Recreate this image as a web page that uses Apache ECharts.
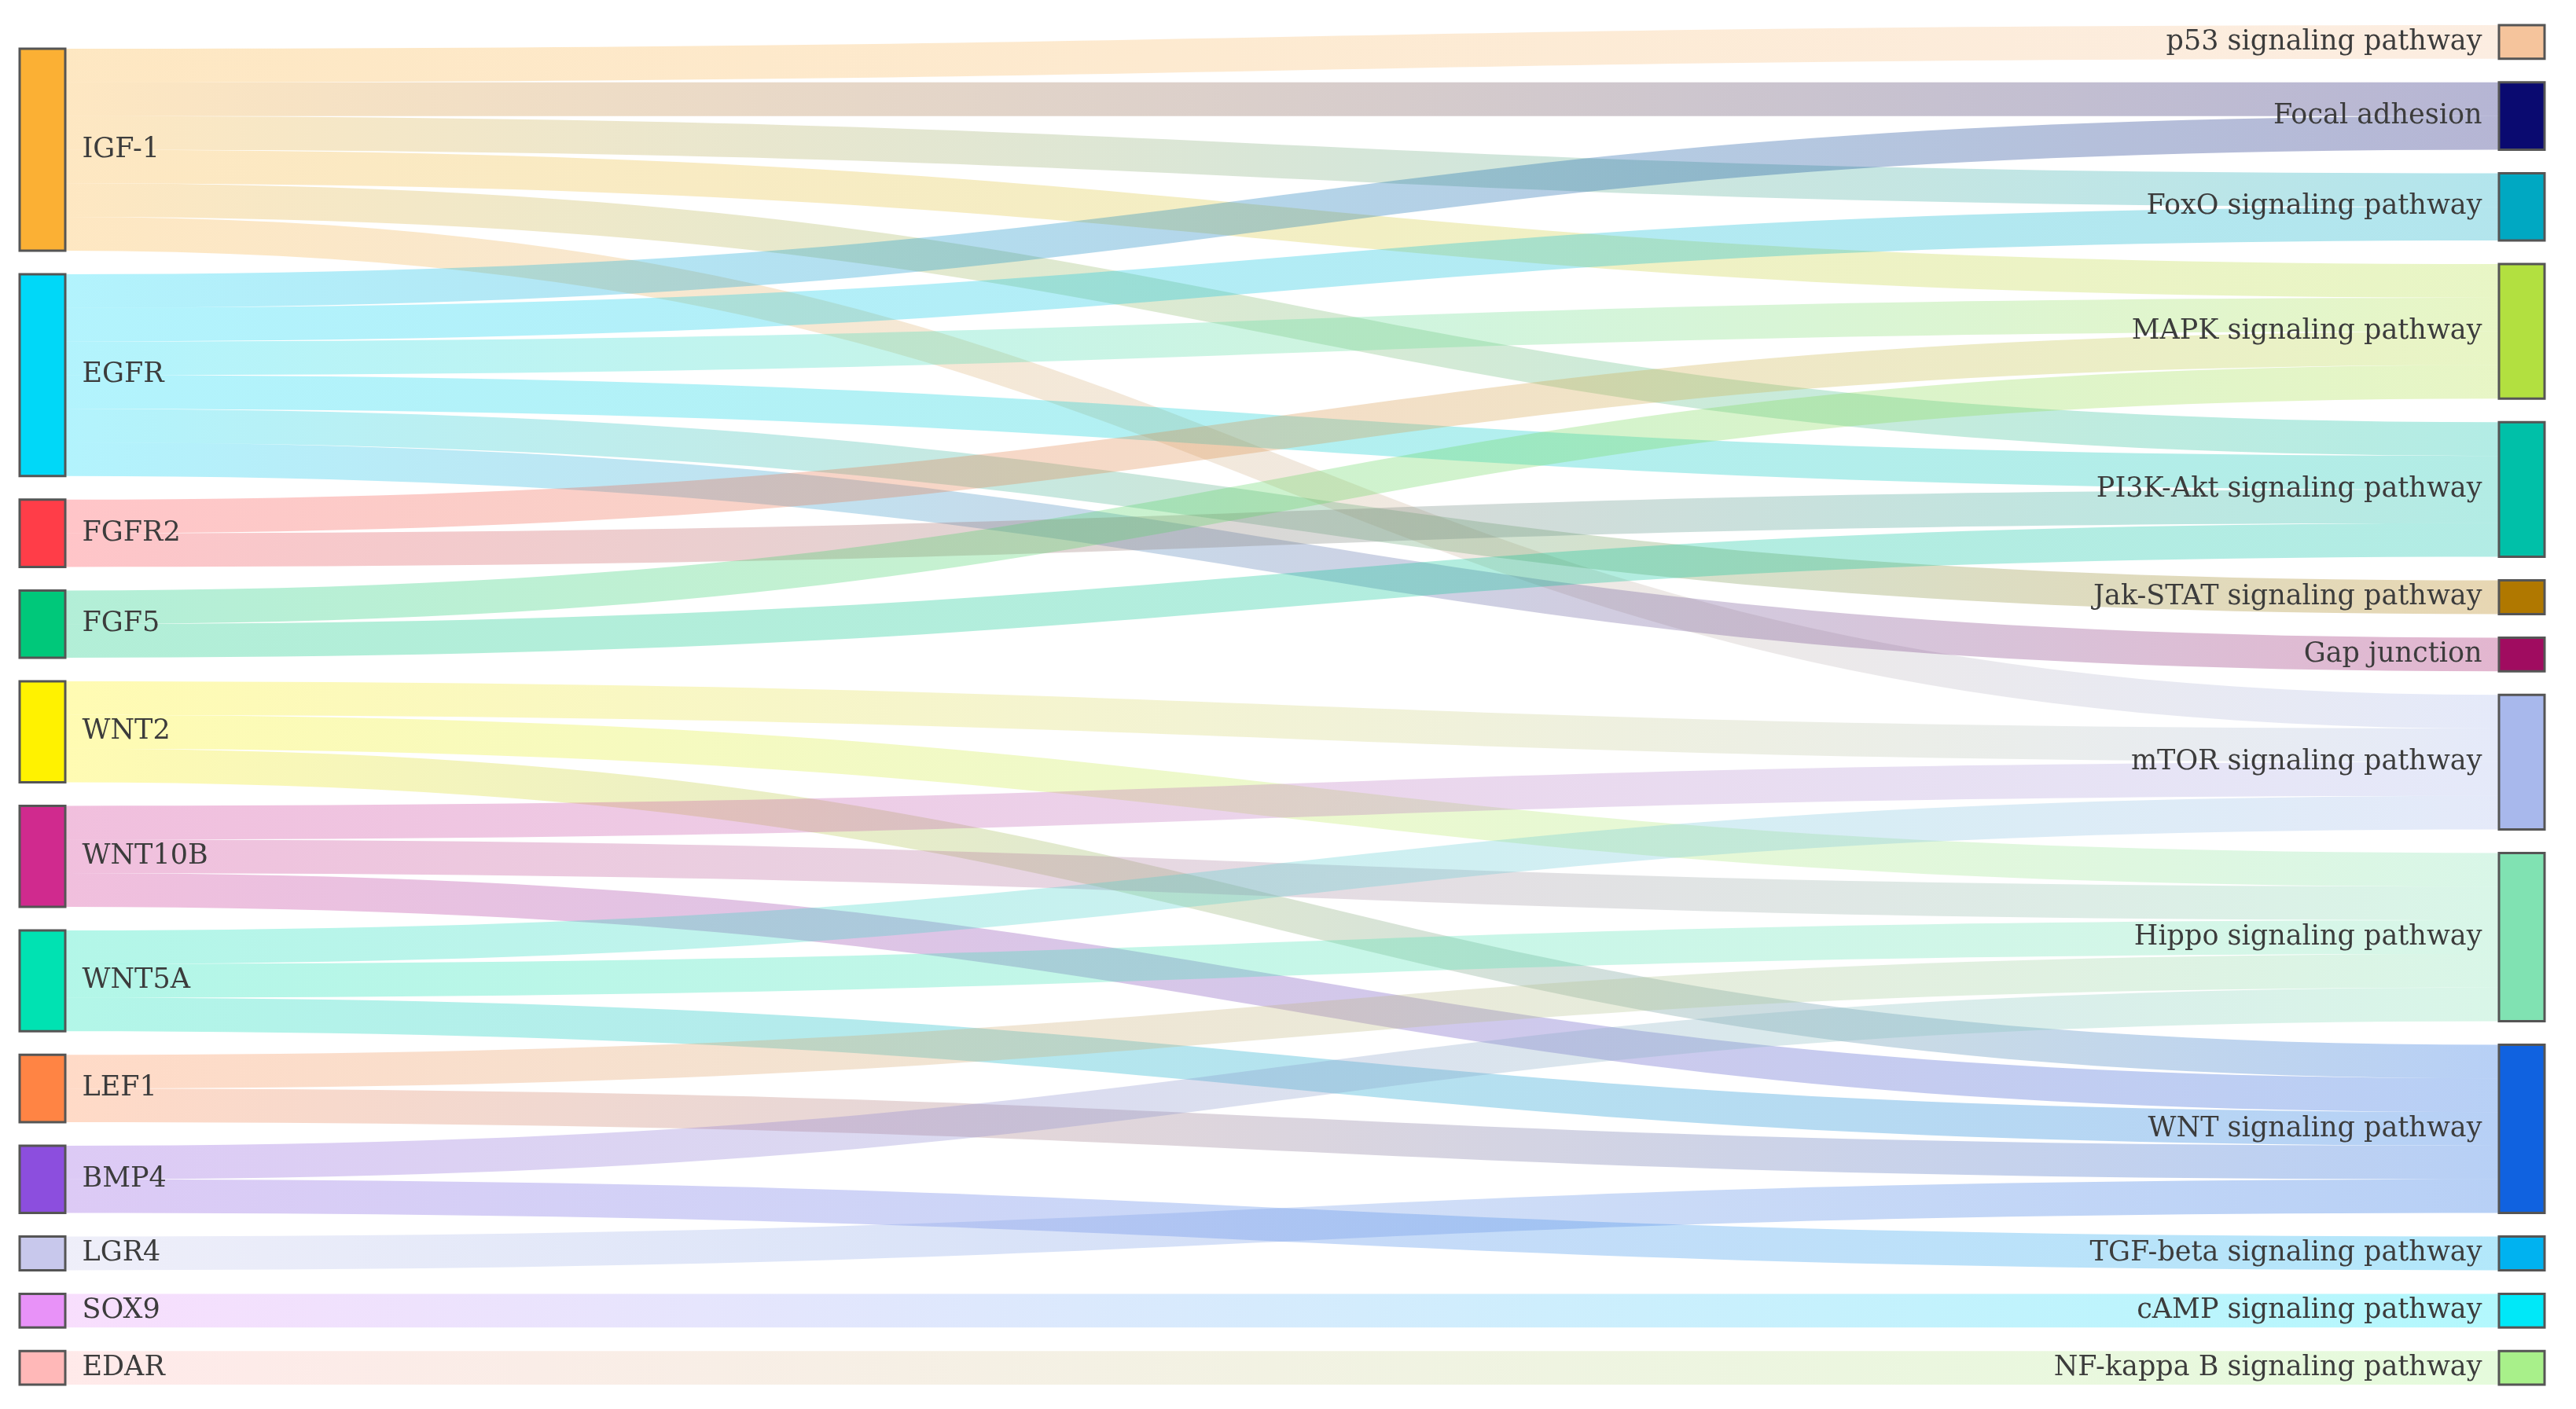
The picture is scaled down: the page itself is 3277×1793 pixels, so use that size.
<!DOCTYPE html>
<html>
<head>
<meta charset="utf-8">
<title>Gene - pathway sankey</title>
<script src="https://cdn.jsdelivr.net/npm/echarts@6/dist/echarts.min.js"></script>
<style>
  html, body { margin: 0; padding: 0; background: #fff; }
  #chart { width: 3277px; height: 1793px; }
</style>
</head>
<body>
<div id="chart"></div>
<script>
// genes (left column), top to bottom
const genes = ['IGF-1', 'EGFR', 'FGFR2', 'FGF5', 'WNT2', 'WNT10B', 'WNT5A', 'LEF1', 'BMP4', 'LGR4', 'SOX9', 'EDAR']
const geneColors = ['#fbb034', '#00d8f8', '#ff3d48', '#00c87a', '#fff200', '#d02a8e', '#00e2b2', '#ff8444', '#8c4ede', '#c8c8ec', '#e892f8', '#ffb8b8']

// pathways (right column), top to bottom
const pathways = [
  'p53 signaling pathway', 'Focal adhesion', 'FoxO signaling pathway', 'MAPK signaling pathway',
  'PI3K-Akt signaling pathway', 'Jak-STAT signaling pathway', 'Gap junction', 'mTOR signaling pathway',
  'Hippo signaling pathway', 'WNT signaling pathway', 'TGF-beta signaling pathway',
  'cAMP signaling pathway', 'NF-kappa B signaling pathway'
]
const pathwayColors = ['#f5c49c', '#0a0a70', '#00a8c2', '#b2e040', '#00c0a8', '#b07800', '#a00c60', '#a8b8ec', '#80e2b2', '#1062e0', '#00b2f0', '#00e8f8', '#a8f08a']

// gene -> pathways it maps to
const geneLinks = {
  'IGF-1': ['p53 signaling pathway', 'Focal adhesion', 'FoxO signaling pathway', 'MAPK signaling pathway', 'PI3K-Akt signaling pathway', 'mTOR signaling pathway'],
  'EGFR': ['Focal adhesion', 'FoxO signaling pathway', 'MAPK signaling pathway', 'PI3K-Akt signaling pathway', 'Jak-STAT signaling pathway', 'Gap junction'],
  'FGFR2': ['MAPK signaling pathway', 'PI3K-Akt signaling pathway'],
  'FGF5': ['MAPK signaling pathway', 'PI3K-Akt signaling pathway'],
  'WNT2': ['mTOR signaling pathway', 'Hippo signaling pathway', 'WNT signaling pathway'],
  'WNT10B': ['mTOR signaling pathway', 'Hippo signaling pathway', 'WNT signaling pathway'],
  'WNT5A': ['mTOR signaling pathway', 'Hippo signaling pathway', 'WNT signaling pathway'],
  'LEF1': ['Hippo signaling pathway', 'WNT signaling pathway'],
  'BMP4': ['Hippo signaling pathway', 'TGF-beta signaling pathway'],
  'LGR4': ['WNT signaling pathway'],
  'SOX9': ['cAMP signaling pathway'],
  'EDAR': ['NF-kappa B signaling pathway']
}
const linkValue = 1

const textStyle = { fontFamily: 'DejaVu Serif', fontSize: 35, color: '#3c3c3c' }

const nodes = []
// empty spacer so the gene column sits bottom-aligned like the original
nodes.push({ name: ' ', value: 0, itemStyle: { opacity: 0, borderWidth: 0 }, label: { show: false } })
genes.forEach((g, i) => {
  nodes.push({ name: g, itemStyle: { color: geneColors[i] }, label: { position: 'right' } })
})
pathways.forEach((p, i) => {
  nodes.push({ name: p, itemStyle: { color: pathwayColors[i] }, label: { position: 'left' } })
})

const links = []
genes.forEach(g => {
  geneLinks[g].forEach(p => links.push({ source: g, target: p, value: linkValue }))
})

const chart = echarts.init(document.getElementById('chart'), null, { renderer: 'canvas' })
chart.setOption({
  backgroundColor: '#ffffff',
  animation: false,
  series: [{
    type: 'sankey',
    left: 25,
    right: 40,
    top: 32,
    bottom: 31,
    nodeWidth: 58,
    nodeGap: 30,
    nodeAlign: 'left',
    layoutIterations: 0,
    draggable: false,
    data: nodes,
    links: links,
    itemStyle: { borderColor: '#555', borderWidth: 3 },
    lineStyle: { color: 'gradient', opacity: 0.3, curveness: 0.5 },
    label: Object.assign({ distance: 20 }, textStyle),
    emphasis: { disabled: true }
  }]
})
</script>
</body>
</html>
